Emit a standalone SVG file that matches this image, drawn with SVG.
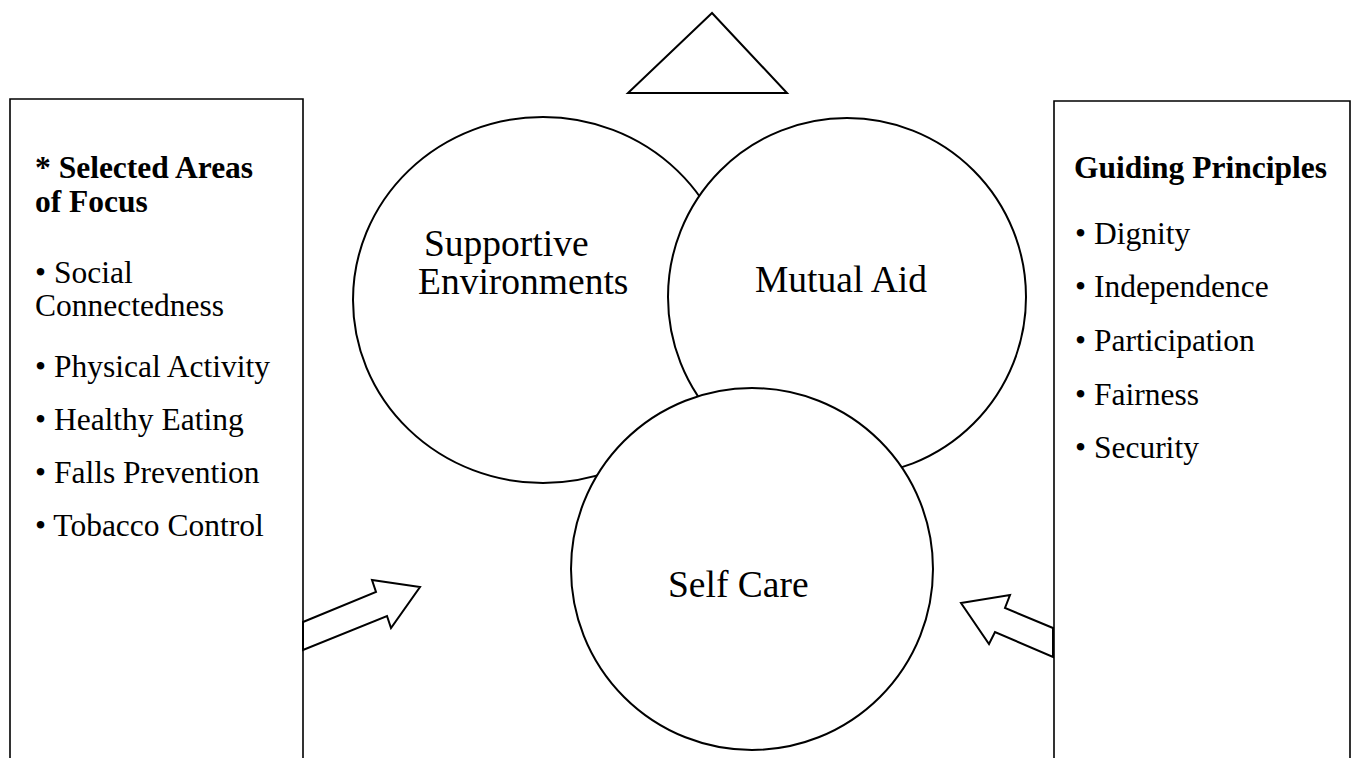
<svg xmlns="http://www.w3.org/2000/svg" width="1360" height="758" viewBox="0 0 1360 758">
<style>
.shape{fill:#fff;stroke:#000;stroke-width:2}
.box{fill:#fff;stroke:#000;stroke-width:1.6}
text{font-family:"Liberation Serif","Times New Roman",serif;fill:#000}
.b{font-weight:bold;font-size:31.5px}
.r{font-size:31.5px}
.c{font-size:37.5px}
</style>
<rect width="1360" height="758" fill="#fff"/>
<g id="triangle"><polygon class="shape" points="712,13 628,93 787,93"/></g>
<g id="left-box">
<path class="box" d="M303,760 V99 H10 V760"/>
<text class="b" x="35" y="178">* Selected Areas</text>
<text class="b" x="35" y="212">of Focus</text>
<text class="r" x="35" y="283">• Social</text>
<text class="r" x="35" y="316">Connectedness</text>
<text class="r" x="35" y="377">• Physical Activity</text>
<text class="r" x="35" y="430">• Healthy Eating</text>
<text class="r" x="35" y="483">• Falls Prevention</text>
<text class="r" x="35" y="536">• Tobacco Control</text>
</g>
<g id="right-box">
<path class="box" d="M1054,760 V101 H1350 V760"/>
<text class="b" x="1074" y="178">Guiding Principles</text>
<text class="r" x="1075" y="244">• Dignity</text>
<text class="r" x="1075" y="297">• Independence</text>
<text class="r" x="1075" y="351">• Participation</text>
<text class="r" x="1075" y="405">• Fairness</text>
<text class="r" x="1075" y="458">• Security</text>
</g>
<g id="supportive-environments">
<ellipse class="shape" cx="543" cy="300" rx="190" ry="183"/>
<text class="c" x="424" y="256">Supportive</text>
<text class="c" x="418" y="294">Environments</text>
</g>
<g id="mutual-aid">
<circle class="shape" cx="847" cy="297" r="179"/>
<text class="c" x="755" y="292">Mutual Aid</text>
</g>
<g id="self-care">
<circle class="shape" cx="752" cy="569" r="181"/>
<text class="c" x="668" y="597">Self Care</text>
</g>
<g id="connectors">
<polygon class="shape" points="303,622 376,592 372,580 420,587 391,628 387,616 303,650"/>
<polygon class="shape" points="1053,628 1005,608 1010,595 961,603 989,644 995,632 1053,657"/>
</g>
</svg>
